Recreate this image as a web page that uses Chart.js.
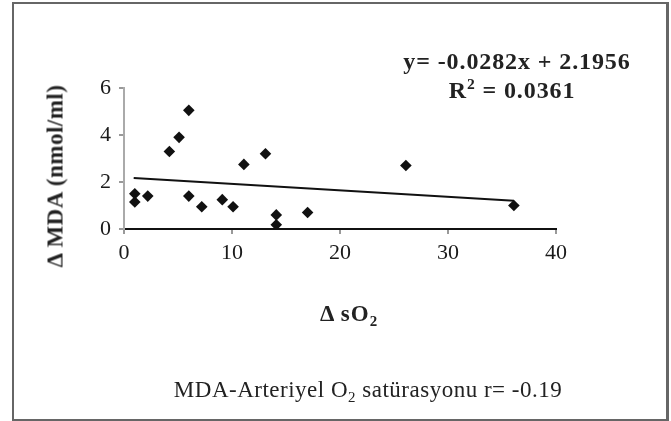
<!DOCTYPE html>
<html>
<head>
<meta charset="utf-8">
<script src="https://cdn.jsdelivr.net/npm/chart.js@4"></script>
<style>
  html, body { margin: 0; padding: 0; background: #fff; }
  #wrap { position: relative; width: 671px; height: 421px; overflow: hidden; font-family: "Liberation Serif", "DejaVu Serif", serif; color: #222; }
  #frame { position: absolute; left: 12px; top: 2px; width: 652px; height: 415px; border: 2px solid #666; border-right-width: 3px; border-bottom-width: 3px; }
  canvas { position: absolute; left: 0; top: 0; }
  .t { position: absolute; white-space: nowrap; line-height: 1; }
  .b { font-weight: bold; }
  sub, sup { font-size: 65%; line-height: 0; }
</style>
</head>
<body>
<div id="wrap">
  <div id="frame"></div>
  <canvas id="c" width="671" height="421"></canvas>
  <div class="t b" id="eq1" style="left:517px; top:68px; font-size:24px; letter-spacing:0.9px; transform:translate(-50%,-80%);">y= -0.0282x + 2.1956</div>
  <div class="t b" id="eq2" style="left:512px; top:97px; font-size:24px; letter-spacing:0.9px; transform:translate(-50%,-80%);">R<sup>2</sup> = 0.0361</div>
  <div class="t b" id="ytitle" style="left:55px; top:176px; font-size:23px; letter-spacing:0.5px; transform:translate(-50%,-50%) rotate(-90deg);">&Delta; MDA (nmol/ml)</div>
  <div class="t b" id="xtitle" style="left:349px; top:320px; font-size:23px; letter-spacing:1px; transform:translate(-50%,-80%);">&Delta; sO<sub>2</sub></div>
  <div class="t" id="foot" style="left:368px; top:396px; font-size:23px; letter-spacing:0.5px; transform:translate(-50%,-80%);">MDA-Arteriyel O<sub>2</sub> satürasyonu r= -0.19</div>
</div>
<script>
// Data
const xValues = [1.0, 1.0, 2.2, 4.2, 5.1, 6.0, 6.0, 7.2, 9.1, 10.1, 11.1, 13.1, 14.1, 14.1, 17.0, 26.1, 36.1];
const yValues = [1.5, 1.15, 1.4, 3.3, 3.9, 5.05, 1.4, 0.95, 1.25, 0.95, 2.75, 3.2, 0.6, 0.18, 0.7, 2.7, 1.0];
const trendX = [0.9, 36.1];
const trendY = [2.17, 1.2];
const xTicks = [0, 10, 20, 30, 40];
const yTicks = [0, 2, 4, 6];

const points = xValues.map((x, i) => ({ x: x, y: yValues[i] }));
const trend = trendX.map((x, i) => ({ x: x, y: trendY[i] }));

const tickFont = { family: "'Liberation Serif', 'DejaVu Serif', serif", size: 22 };

new Chart(document.getElementById('c'), {
  type: 'scatter',
  data: {
    datasets: [
      {
        label: 'MDA',
        data: points,
        pointStyle: 'rectRot',
        pointRadius: 5.8,
        pointHoverRadius: 5.8,
        backgroundColor: '#111',
        borderColor: '#111',
        borderWidth: 0,
        order: 1
      },
      {
        label: 'Trend',
        data: trend,
        showLine: true,
        pointRadius: 0,
        borderColor: '#111',
        borderWidth: 2,
        fill: false,
        order: 2
      }
    ]
  },
  options: {
    responsive: false,
    animation: false,
    events: [],
    layout: { padding: { left: 0, top: 88, right: 115, bottom: 152 } },
    plugins: { legend: { display: false }, tooltip: { enabled: false }, title: { display: false } },
    scales: {
      x: {
        type: 'linear',
        min: 0, max: 40,
        afterBuildTicks: (s) => { s.ticks = xTicks.map(v => ({ value: v })); },
        afterFit: (s) => { s.height = 40; },
        border: { display: true, color: '#111', width: 2 },
        grid: { display: true, drawOnChartArea: false, drawTicks: true, tickLength: 5, color: '#999', lineWidth: 2 },
        ticks: { font: tickFont, color: '#1a1a1a', padding: 6, maxRotation: 0 }
      },
      y: {
        type: 'linear',
        min: 0, max: 6,
        afterBuildTicks: (s) => { s.ticks = yTicks.map(v => ({ value: v })); },
        afterFit: (s) => { s.width = 124; },
        border: { display: true, color: '#aaa', width: 2 },
        grid: { display: true, drawOnChartArea: false, drawTicks: true, tickLength: 5, color: '#999', lineWidth: 2 },
        ticks: { font: tickFont, color: '#1a1a1a', padding: 8 }
      }
    }
  }
});
</script>
</body>
</html>
